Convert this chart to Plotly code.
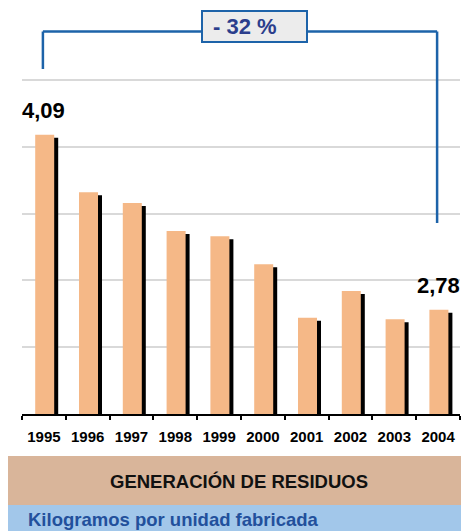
import plotly.graph_objects as go

# Waste generation, kilograms per manufactured unit
years = ["1995", "1996", "1997", "1998", "1999", "2000", "2001", "2002", "2003", "2004"]
kg_per_unit = [4.09, 3.66, 3.58, 3.37, 3.33, 3.12, 2.72, 2.92, 2.71, 2.78]

title_text = "GENERACIÓN DE RESIDUOS"
unit_text = "Kilogramos por unidad fabricada"

W, H = 461, 531
ML, MR, MT, MB = 22, 1, 74, 117
PW, PH = W - ML - MR, H - MT - MB
PX_PER_UNIT = 133.6
Y0 = 2.0
Y1 = Y0 + PH / PX_PER_UNIT
SHADOW_DY = 3 / PX_PER_UNIT   # shadow sits 3 px lower
CAT_PX = PW / len(years)

FONT = "Liberation Sans, Arial, sans-serif"
ORANGE = "#f5b887"
BLUE = "#1d63a9"
NAVY = "#2b3e8c"


def px(x):
    return (x - ML) / PW


def py(y):
    return (H - MB - y) / PH


def cat_paper(i):
    # paper x of a category centre
    return (i + 0.5) / len(years)


bar_w = 19 / CAT_PX
bar_off = -8.7 / CAT_PX
shadow_off = bar_off + 4 / CAT_PX

fig = go.Figure()
# drop shadow (main y axis, range nudged so the bar reads slightly lower)
fig.add_trace(go.Bar(
    x=years, y=kg_per_unit, yaxis="y", width=bar_w, offset=shadow_off,
    marker=dict(color="#000000", line=dict(width=0)), hoverinfo="skip",
))
# main bars
fig.add_trace(go.Bar(
    x=years, y=kg_per_unit, yaxis="y2", width=bar_w, offset=bar_off,
    marker=dict(color=ORANGE, line=dict(width=0)),
))


def fmt(v):
    return f"{v:.2f}".replace(".", ",")


annotations = []
for i in (0, len(years) - 1):
    annotations.append(dict(
        x=i, y=kg_per_unit[i], xref="x", yref="y2", yshift=24,
        text=fmt(kg_per_unit[i]), showarrow=False, xanchor="center", yanchor="middle",
        font=dict(family=FONT, size=22, color="#000000", weight="bold"),
    ))

change = round((kg_per_unit[-1] - kg_per_unit[0]) / kg_per_unit[0] * 100)
sign = "-" if change < 0 else "+"
annotations.append(dict(
    x=px(211), y=py(26), xref="paper", yref="paper",
    text=f"{sign} {abs(change)} %", showarrow=False, xanchor="left", yanchor="middle",
    font=dict(family=FONT, size=22, color=NAVY, weight="bold"),
))
annotations.append(dict(
    x=px(239), y=py(481), xref="paper", yref="paper",
    text=title_text, showarrow=False, xanchor="center", yanchor="middle",
    font=dict(family=FONT, size=18.5, color="#111111", weight="bold"),
))
annotations.append(dict(
    x=px(26), y=py(519), xref="paper", yref="paper",
    text=unit_text, showarrow=False, xanchor="left", yanchor="middle",
    font=dict(family=FONT, size=18.5, color="#22509c", weight="bold"),
))

line = dict(color=BLUE, width=2.5)
xa, xb = cat_paper(0) - 1 / PW, cat_paper(len(years) - 1) - 1 / PW
shapes = [
    # bracket spanning first to last year
    dict(type="line", xref="paper", yref="paper", x0=xa, x1=xa, y0=py(31.5), y1=py(69), line=line),
    dict(type="line", xref="paper", yref="paper", x0=xa, x1=xb, y0=py(31.5), y1=py(31.5), line=line),
    dict(type="line", xref="paper", yref="paper", x0=xb, x1=xb, y0=py(31.5), y1=py(223), line=line),
    # percentage box
    dict(type="rect", xref="paper", yref="paper", x0=px(202), x1=px(307), y0=py(11), y1=py(42),
         fillcolor="#ececec", line=dict(color=BLUE, width=2), layer="above"),
    # footer bands
    dict(type="rect", xref="paper", yref="paper", x0=px(8), x1=px(461), y0=py(456), y1=py(505),
         fillcolor="#d9b59a", line=dict(width=0), layer="below"),
    dict(type="rect", xref="paper", yref="paper", x0=px(8), x1=px(461), y0=py(505), y1=py(531),
         fillcolor="#a2c7ea", line=dict(width=0), layer="below"),
]

fig.update_layout(
    width=W, height=H,
    margin=dict(l=ML, r=MR, t=MT, b=MB),
    paper_bgcolor="#ffffff", plot_bgcolor="#ffffff",
    barmode="overlay", showlegend=False,
    xaxis=dict(
        type="category", range=[-0.5, len(years) - 0.5],
        showline=True, linecolor="#000000", linewidth=1.5,
        ticks="outside", tickson="boundaries", ticklen=4, tickwidth=1.5, tickcolor="#000000",
        ticklabelstandoff=8, showgrid=False,
        tickfont=dict(family=FONT, size=15, color="#000000", weight="bold"),
    ),
    yaxis=dict(
        range=[Y0 + SHADOW_DY, Y1 + SHADOW_DY], showgrid=False, showticklabels=False,
        zeroline=False, showline=False, ticks="",
    ),
    yaxis2=dict(
        overlaying="y", range=[Y0, Y1], tick0=2.0, dtick=0.5,
        showgrid=True, gridcolor="#d9d9d9", gridwidth=1.5,
        showticklabels=False, zeroline=False, showline=False, ticks="",
    ),
    annotations=annotations,
    shapes=shapes,
)

fig.write_html("out.html")
